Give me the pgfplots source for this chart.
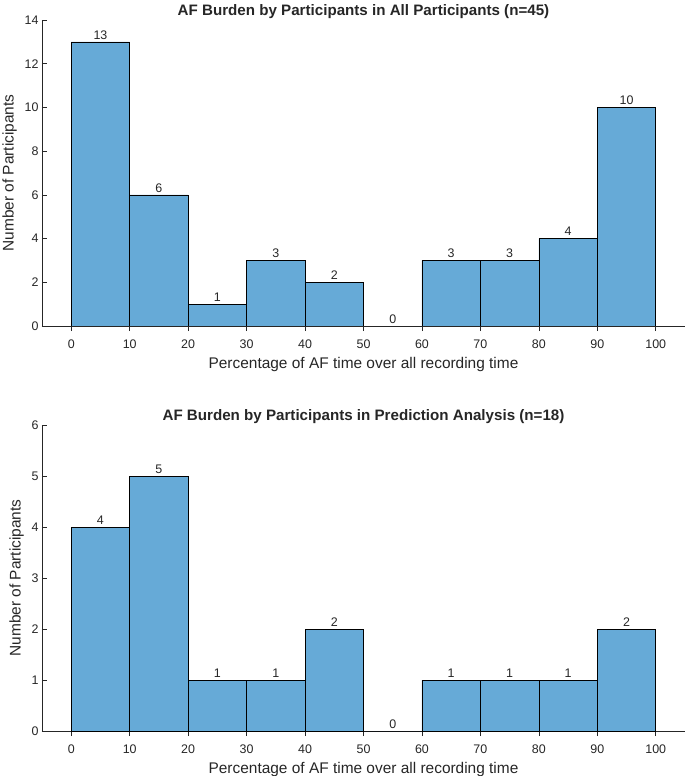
\documentclass[border=0pt]{standalone}
\usepackage{fontspec}
\setmainfont{Liberation Sans}
\usepackage{pgfplots}
\pgfplotsset{compat=1.18}

\definecolor{barblue}{RGB}{102,170,215}
\definecolor{axgray}{RGB}{38,38,38}

\pgfplotstableread{
x   all  pred
5   13   4
15  6    5
25  1    1
35  3    1
45  2    2
55  0    0
65  3    1
75  3    1
85  4    1
95  10   2
}\afdata

\pgfplotsset{
  afhist/.style={
    scale only axis,
    width=643bp,
    height=306bp,
    xmin=-5, xmax=105,
    ymin=0,
    axis x line*=bottom,
    axis y line*=left,
    axis line style={axgray, line width=0.6bp, -},
    tick style={axgray, line width=0.6bp},
    tick align=inside,
    major tick length=5bp,
    xtick={0,10,...,100},
    font=\fontsize{12.5}{14}\selectfont,
    tick label style={text=axgray},
    /pgf/number format/assume math mode=true,
    xticklabel style={yshift=-5bp},
    xlabel={Percentage of AF time over all recording time},
    ylabel={Number of Participants},
    label style={font=\fontsize{15.5}{17}\selectfont, text=axgray},
    xlabel style={yshift=-2bp},
    ylabel style={yshift=1bp},
    title style={font=\bfseries\fontsize{15.2}{17}\selectfont, text=axgray, yshift=-8bp},
    ybar,
    bar width=10,
    nodes near coords,
    every node near coord/.append style={font=\fontsize{12.5}{14}\selectfont, text=axgray, yshift=-1bp},
  },
}

\begin{document}
\begin{tikzpicture}
\useasboundingbox (-42bp,-450bp) rectangle (643bp,326bp);
\begin{axis}[afhist,
  at={(0bp,0bp)}, anchor=south west,
  ymax=14, ytick={0,2,...,14},
  title={AF Burden by Participants in All Participants (n=45)},
]
\addplot[fill=barblue, draw=black, line width=0.6bp] table[x=x, y=all] {\afdata};
\end{axis}
\begin{axis}[afhist,
  at={(0bp,-405bp)}, anchor=south west,
  ymax=6, ytick={0,1,...,6},
  title={AF Burden by Participants in Prediction Analysis (n=18)},
]
\addplot[fill=barblue, draw=black, line width=0.6bp] table[x=x, y=pred] {\afdata};
\end{axis}
\end{tikzpicture}
\end{document}
